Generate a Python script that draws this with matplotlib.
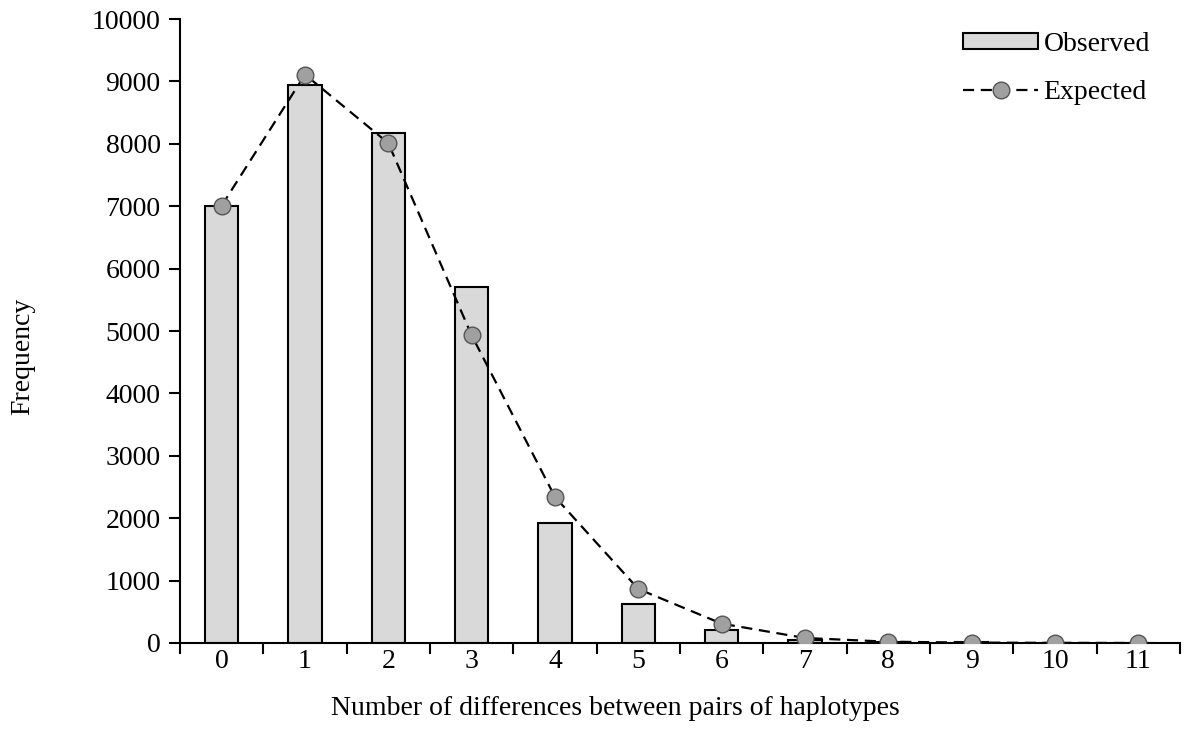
import numpy as np
import matplotlib
matplotlib.use("Agg")
import matplotlib.pyplot as plt
from matplotlib.ticker import MultipleLocator

plt.rcParams['font.family'] = ['Liberation Serif', 'DejaVu Serif']

# number of pairwise differences
categories = list(range(12))
observed = [7000, 8940, 8180, 5710, 1930, 620, 200, 45, 15, 10, 5, 2]
expected = [7010, 9110, 8010, 4930, 2340, 865, 310, 80, 20, 6, 2, 0]

fig = plt.figure(figsize=(11.89, 7.46), dpi=100)
ax = fig.add_axes([0.1514, 0.1381, 0.8410, 0.8364])

x = np.arange(len(categories))
bars = ax.bar(x, observed, width=0.4, color='#d9d9d9', edgecolor='black',
              linewidth=1.5, label='Observed', zorder=2)
line, = ax.plot(x, expected, color='black', linestyle=(0, (5, 3)), linewidth=1.6,
                marker='o', markersize=12, markerfacecolor='#a0a0a0',
                markeredgecolor='#555555', markeredgewidth=1.0,
                label='Expected', zorder=3)

ax.set_xlim(-0.5, 11.5)
ax.set_ylim(0, 10000)
ax.yaxis.set_major_locator(MultipleLocator(1000))
ax.set_xticks(x)
ax.set_xticklabels([str(c) for c in categories])
ax.set_xticks(np.arange(-0.5, 12, 1), minor=True)
ax.tick_params(axis='x', which='major', length=0, labelsize=20, pad=4)
ax.tick_params(axis='x', which='minor', length=8, width=1.5, direction='out')
ax.tick_params(axis='y', length=8, width=1.5, direction='out', labelsize=20, pad=6)

for s in ['top', 'right']:
    ax.spines[s].set_visible(False)
for s in ['left', 'bottom']:
    ax.spines[s].set_linewidth(1.5)

ax.set_xlabel('Number of differences between pairs of haplotypes', fontsize=20)
ax.xaxis.set_label_coords(0.435, -0.085)
ax.set_ylabel('Frequency', fontsize=20)
ax.yaxis.set_label_coords(-0.145, 0.46)

leg = ax.legend([bars, line], ['Observed', 'Expected'], loc='upper right',
                frameon=False, fontsize=20, handlelength=2.7, handleheight=0.5,
                handletextpad=0.2, labelspacing=0.85,
                bbox_to_anchor=(0.995, 1.02))

fig.savefig('out.png', dpi=100)
